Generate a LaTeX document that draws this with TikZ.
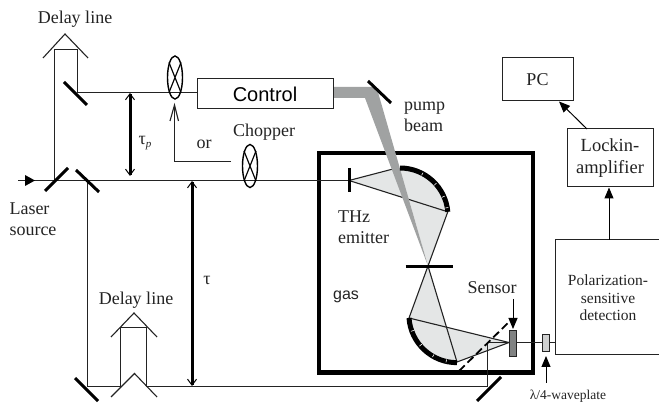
\documentclass[tikz,border=0pt]{standalone}
\usepackage{fontspec}
\setmainfont{Liberation Serif}
\setsansfont{Liberation Sans}
\usetikzlibrary{arrows.meta}
\definecolor{fillg}{RGB}{228,230,230}
\definecolor{pumpg}{RGB}{160,162,162}
\definecolor{ln}{RGB}{35,35,35}
\tikzset{
 beam/.style={draw=ln,line width=1.1pt},
 mirror/.style={draw=black,line width=3pt},
 dbl/.style={draw=black,line width=3pt,{Straight Barb[length=6pt,width=9pt,line width=1pt]}-{Straight Barb[length=6pt,width=9pt,line width=1pt]}},
 roof/.style={draw=ln,line width=1.1pt},
 lbl/.style={inner sep=0pt,font=\fontsize{18}{20.5}\selectfont,align=center,text=ln},
 smalllbl/.style={inner sep=0pt,font=\fontsize{13.5}{17}\selectfont,align=center,text=ln},
 box/.style={draw=ln,line width=1pt,fill=white,inner sep=0pt},
 fa/.style={draw=black,line width=1pt,-{Triangle[length=11pt,width=9pt]}},
 tick/.style={draw=white,line width=.6pt}
}
\begin{document}
\begin{tikzpicture}[x=1pt,y=-1pt]
\useasboundingbox (0,0) rectangle (659,403);
% coordinates
\coordinate (src) at (18,180.5);
\coordinate (tipbase) at (25,180.5);
\coordinate (tipend) at (35,180.5);
\coordinate (bs1) at (54.5,180.5);
\coordinate (bs2) at (87.5,180.5);
\coordinate (em) at (349,180.5);
\coordinate (tl) at (54.5,49.5);
\coordinate (tr) at (77.5,49.5);
\coordinate (tb) at (77.5,92.5);
\coordinate (bl) at (87.5,386.5);
\coordinate (dl) at (120.5,386.5);
\coordinate (dlt) at (120.5,327.5);
\coordinate (drt) at (146.5,327.5);
\coordinate (dr) at (146.5,386.5);
\coordinate (mr) at (487.5,386.5);
\coordinate (mru) at (487.5,342.5);
\coordinate (sens) at (509,342.5);
\coordinate (foc) at (428,266);
\coordinate (ua) at (393,169);
\coordinate (ub) at (447.8,211.8);
\coordinate (la) at (409,318);
\coordinate (lb) at (457,362);
\coordinate (uc) at (400,216);
\coordinate (lc) at (457,314.6);
% grey optics regions
\path[fill=fillg] (em) -- (ua) -- (400,168) arc[start angle=-90,end angle=-5,radius=48] -- cycle;
\path[fill=fillg] (400,168) arc[start angle=-90,end angle=-5,radius=48] -- (foc) -- cycle;
\path[fill=fillg] (foc) -- (la) arc[start angle=176,end angle=90,radius=48] -- cycle;
\path[fill=fillg] (la) arc[start angle=176,end angle=90,radius=48] -- (sens) -- cycle;
% beams in chamber
\draw[beam] (em) -- (ua);
\draw[beam] (em) -- (ub) -- (foc);
\draw[beam] (foc) -- (la) -- (sens);
\draw[beam] (foc) -- (lb) -- (sens);
% chamber
\draw[draw=black,line width=4.5pt,line join=miter] (319,153) rectangle (533,372.5);
% pump beam
\path[fill=pumpg] (333,87) -- (376.5,87) -- (foc) -- (365,98) -- (333,98) -- cycle;
% reflective arcs
\draw[line width=5pt,draw=black] (400,168) arc[start angle=-90,end angle=-5,radius=48];
\draw[line width=5pt,draw=black] (la) arc[start angle=176,end angle=90,radius=48];
\foreach \a in {-62,-42,-24,-10}{\draw[tick] (uc) ++(\a:46) -- ++(\a:3);}
\foreach \a in {160,140,120,103}{\draw[tick] (lc) ++(\a:46) -- ++(\a:3);}
% main beams
\draw[beam] (src) -- (em);
\path[fill=black] (tipbase)++(0,-5.5) -- (tipend) -- ++(-10,5.5) -- cycle;
\draw[beam] (bs1) -- (tl) -- (tr) -- (tb) -- (197,92.5);
\draw[beam] (bs2) -- (bl) -- (dl) -- (dlt) -- (drt) -- (dr) -- (mr) -- (mru) -- (556,342.5);
% delay roofs
\draw[roof] (43,58) -- (65,34) -- (88,58);
\draw[roof] (111,337) -- (134,313) -- (157,337);
\draw[roof] (111,397) -- (134.5,373.5) -- (157,397);
% mirrors
\draw[mirror] (64,82) -- (87,105);
\draw[mirror] (45,191) -- (68,168);
\draw[mirror] (76,170) -- (99,192);
\draw[mirror] (75,378) -- (98,401);
\draw[mirror] (477,401) -- (501,377);
\draw[mirror] (368,81) -- (391,103);
\draw[mirror] (349,168) -- (349,192.5);
\draw[mirror] (405.5,266.5) -- (452.5,266.5);
% dashed line
\draw[draw=black,line width=1.8pt,dash pattern=on 8pt off 4pt] (459,371) -- (510,321);
% lamps
\foreach \nm/\cx/\cy in {la1/175/77.5,la2/250/166}{
 \draw[black,line width=1.4pt] (\cx,\cy) ellipse[x radius=7.5,y radius=21.5];
 \draw[black,line width=1.2pt] (\cx-6,\cy-15) -- (\cx+6,\cy+15) (\cx+6,\cy-15) -- (\cx-6,\cy+15);
}
% or path
\draw[beam] (231,161.5) -- (174.5,161.5) -- (174.5,106);
\draw[beam] (170,121) -- (174.5,105) -- (178.5,121);
% delay arrows
\draw[dbl] (130,93) -- (130,176);
\draw[dbl] (192,181) -- (192,386);
% sensor & plate
\node[draw=ln,fill=pumpg!80!black,line width=.8pt,minimum width=7.5pt,minimum height=26pt,inner sep=0pt] (sensor) at (513,343) {};
\node[draw=ln,fill=fillg!80!gray,line width=.8pt,minimum width=7pt,minimum height=17pt,inner sep=0pt] (plate) at (546,342.5) {};
% boxes
\node[box,minimum width=136pt,minimum height=30pt,font=\sffamily\fontsize{20}{22}\selectfont] (ctrl) at (265,94) {Control};
\node[box,minimum width=71pt,minimum height=43pt,font=\fontsize{18}{20}\selectfont,text=ln] (pc) at (537.5,79.5) {PC};
\node[box,minimum width=86pt,minimum height=58pt,font=\fontsize{18.5}{21.5}\selectfont,align=center,text=ln] (lock) at (610,158) {Lockin-\\amplifier};
\draw[draw=ln,line width=1pt] (660,240) -- (555.7,240) -- (555.7,355) -- (660,355);
\node[inner sep=0pt,font=\fontsize{15.5}{17.5}\selectfont,align=center,text=ln] (pol) at (608,298) {Polarization-\\sensitive\\detection};
% arrows
\coordinate (polTop) at (609,240);
\coordinate (lockBot) at (609,187.5);
\coordinate (lockTop) at (587,129);
\coordinate (pcBot) at (559,101.5);
\coordinate (senTop) at (513,299);
\coordinate (senTip) at (513,329);
\coordinate (wpBot) at (546,383);
\coordinate (wpTip) at (546,356);
\draw[fa] (polTop) -- (lockBot);
\draw[fa] (lockTop) -- (pcBot);
\draw[fa] (senTop) -- (senTip);
\draw[fa] (wpBot) -- (wpTip);
% text
\node[lbl] (t1) at (75,19) {Delay line};
\node[lbl] (t2) at (136,300) {Delay line};
\node[lbl,align=left] (t3) at (33,219) {Laser\\source};
\node[lbl] (t4) at (204,144) {or};
\node[lbl] (t5) at (264,132) {Chopper};
\node[lbl,align=left,anchor=west] (t6) at (404,117) {pump\\beam};
\node[lbl,align=left,anchor=west] (t7) at (338,227) {THz\\emitter};
\node[lbl] (t8) at (492,288) {Sensor};
\node[inner sep=0pt,font=\sffamily\fontsize{16}{18}\selectfont,text=ln] (t9) at (346,297) {gas};
\node[lbl] (t10) at (145,143) {τ\raisebox{-3pt}{\fontsize{11}{12}\selectfont\itshape p}};
\node[lbl] (t11) at (207,280) {τ};
\node[smalllbl] (t12) at (568,396) {λ/4-waveplate};
\end{tikzpicture}
\end{document}
